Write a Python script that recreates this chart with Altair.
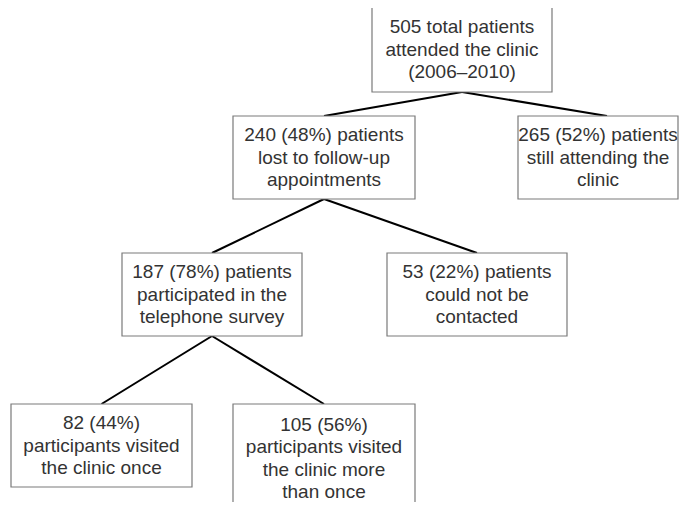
import altair as alt
import pandas as pd

# ---- content ----
box_ids = ["root", "still", "lost", "survey", "nocontact", "once", "more"]
box_lines = [
    ["505 total patients", "attended the clinic", "(2006\u20132010)"],
    ["265 (52%) patients", "still attending the", "clinic"],
    ["240 (48%) patients", "lost to follow-up", "appointments"],
    ["187 (78%) patients", "participated in the", "telephone survey"],
    ["53 (22%) patients", "could not be", "contacted"],
    ["82 (44%)", "participants visited", "the clinic once"],
    ["105 (56%)", "participants visited", "the clinic more", "than once"],
]
edges = [("root", "lost"), ("root", "still"), ("lost", "survey"),
         ("lost", "nocontact"), ("survey", "once"), ("survey", "more")]

# ---- layout (page pixel space) ----
box_x0 = [372, 518, 233, 122, 387, 11, 233]
box_x1 = [552, 696, 415, 302, 567, 192, 415]
box_y0 = [7, 116, 116, 253, 253, 404, 404]
box_y1 = [92, 199, 199, 336, 336, 487, 513]
text_dx = [0, -9, 0, 0, 0, 0, 0]
line_gap = 22.5

W, H = 671, 494
OX, OY = 8, 8

boxes = pd.DataFrame({"id": box_ids, "x0": box_x0, "x1": box_x1,
                      "y0": box_y0, "y1": box_y1, "dx": text_dx})
pos = {r.id: r for r in boxes.itertuples()}
# drawn outline is kept inside the visible page
boxes["x1d"] = boxes["x1"].clip(upper=OX + W - 1)

text_rows = []
for bid, lines in zip(box_ids, box_lines):
    b = pos[bid]
    cx = (b.x0 + b.x1) / 2 + b.dx
    cy = (b.y0 + b.y1) / 2
    n = len(lines)
    for i, t in enumerate(lines):
        text_rows.append({"x": cx, "y": cy + (i - (n - 1) / 2) * line_gap, "t": t})
texts = pd.DataFrame(text_rows)

edge_rows = []
for a, b in edges:
    pa, pb = pos[a], pos[b]
    edge_rows.append({"x": (pa.x0 + pa.x1) / 2, "y": pa.y1,
                      "x2": (pb.x0 + pb.x1) / 2, "y2": pb.y0})
edges_df = pd.DataFrame(edge_rows)

xs = alt.Scale(domain=[OX, OX + W], nice=False, zero=False)
ys = alt.Scale(domain=[OY + H, OY], nice=False, zero=False)

rules = alt.Chart(edges_df).mark_rule(color="#000000", strokeWidth=2, clip=True).encode(
    x=alt.X("x:Q", scale=xs, axis=None), y=alt.Y("y:Q", scale=ys, axis=None),
    x2="x2:Q", y2="y2:Q")

rects = alt.Chart(boxes).mark_rect(fill="white", stroke="#7a7a7a", strokeWidth=1.2,
                                   clip=True).encode(
    x=alt.X("x0:Q", scale=xs, axis=None), x2="x1d:Q",
    y=alt.Y("y0:Q", scale=ys, axis=None), y2="y1:Q")

labels = alt.Chart(texts).mark_text(font="Liberation Sans", fontSize=19,
                                    color="#333333", align="center",
                                    baseline="middle").encode(
    x=alt.X("x:Q", scale=xs, axis=None), y=alt.Y("y:Q", scale=ys, axis=None),
    text="t:N")

chart = alt.layer(rules, rects, labels).properties(
    width=W, height=H, padding=0, autosize=alt.AutoSizeParams(type="none")
).configure_view(stroke=None)

chart.save("out.html", embed_options={"renderer": "svg", "actions": False})
